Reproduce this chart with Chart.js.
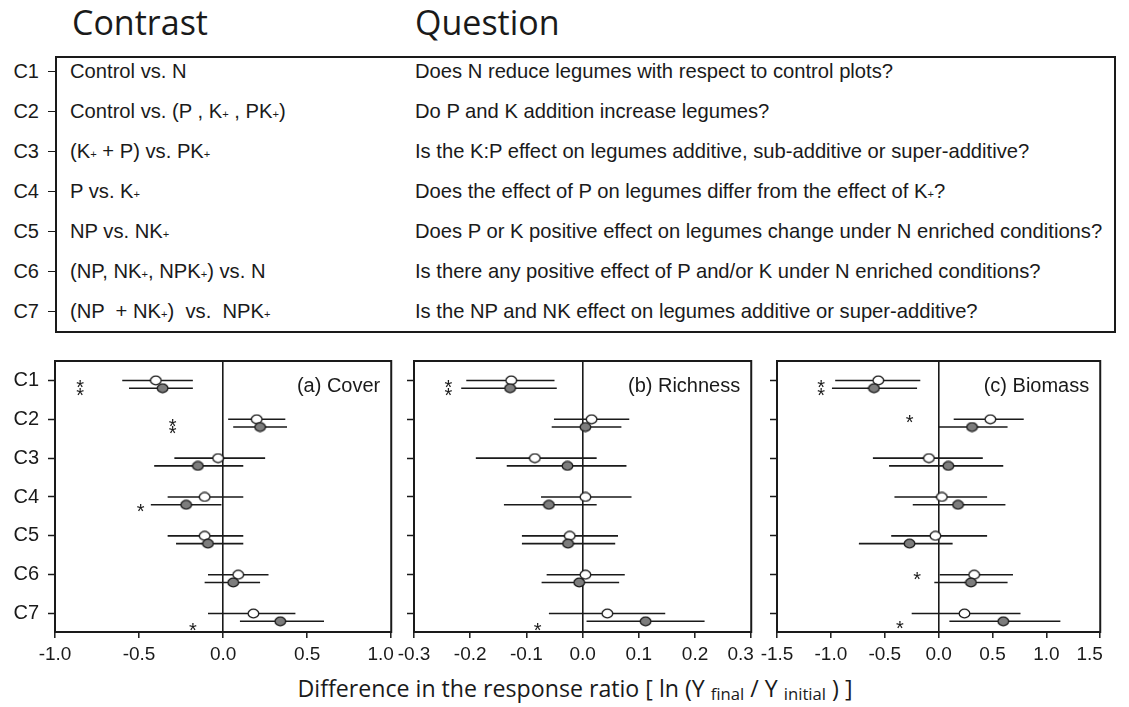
<!DOCTYPE html>
<html>
<head>
<meta charset="utf-8">
<title>Legume contrasts</title>
<script src="https://cdn.jsdelivr.net/npm/chart.js@4.4.1/dist/chart.umd.min.js"></script>
<style>
  html,body{margin:0;padding:0;background:#fff;}
  body{position:relative;width:1129px;height:707px;overflow:hidden;font-family:"Liberation Sans",Arial,sans-serif;color:#1a1a1a;}
  .head{position:absolute;top:5px;font-family:"Open Sans",sans-serif;font-size:34px;line-height:34px;white-space:nowrap;}
  #box{position:absolute;left:55px;top:56px;width:1061px;height:277px;border:2px solid #1a1a1a;box-sizing:border-box;}
  .txt{position:absolute;white-space:nowrap;font-size:20px;line-height:1;}
  .lab{position:absolute;left:0;width:39px;text-align:right;font-size:20px;line-height:20px;}
  .tick{position:absolute;left:48px;width:7px;height:0;border-top:1.5px solid #1a1a1a;}
  sub{font-size:0.55em;vertical-align:baseline;position:relative;top:0.05em;}
  canvas{position:absolute;top:340px;}
  #xtitle{position:absolute;top:675px;left:575px;transform:translateX(-50%);font-family:"Open Sans",sans-serif;font-size:22px;line-height:26px;white-space:nowrap;}
  #xtitle sub{font-size:0.72em;top:0.2em;}
</style>
</head>
<body>
<div class="head" style="left:72px">Contrast</div>
<div class="head" style="left:415px">Question</div>
<div id="box"></div>
<div id="table"></div>
<div id="xtitle">Difference in the response ratio [ ln (Y <sub>final</sub> / Y <sub>initial</sub> ) ]</div>

<canvas id="cover" width="420" height="367" style="left:0px"></canvas>
<canvas id="richness" width="400" height="367" style="left:380px"></canvas>
<canvas id="biomass" width="389" height="367" style="left:740px"></canvas>

<script>
  // ===== Data =====
  const contrasts = ['C1','C2','C3','C4','C5','C6','C7'];
  const contrastText = [
    'Control vs. N',
    'Control vs. (P , K<sub>+</sub> , PK<sub>+</sub>)',
    '(K<sub>+</sub> + P) vs. PK<sub>+</sub>',
    'P vs. K<sub>+</sub>',
    'NP vs. NK<sub>+</sub>',
    '(NP, NK<sub>+</sub>, NPK<sub>+</sub>) vs. N',
    '(NP &nbsp;+ NK<sub>+</sub>) &nbsp;vs. &nbsp;NPK<sub>+</sub>'
  ];
  const questionText = [
    'Does N reduce legumes with respect to control plots?',
    'Do P and K addition increase legumes?',
    'Is the K:P effect on legumes additive, sub-additive or super-additive?',
    'Does the effect of P on legumes differ from the effect of K<sub>+</sub>?',
    'Does P or K positive effect on legumes change under N enriched conditions?',
    'Is there any positive effect of P and/or K under N enriched conditions?',
    'Is the NP and NK effect on legumes additive or super-additive?'
  ];

  const coverTicks    = [-1, -0.5, 0, 0.5, 1];
  const richnessTicks = [-0.3, -0.2, -0.1, 0, 0.1, 0.2, 0.3];
  const biomassTicks  = [-1.5, -1, -0.5, 0, 0.5, 1, 1.5];

  // (a) Cover
  const coverOpenMean = [-0.40, 0.20, -0.03, -0.11, -0.11, 0.09, 0.18];
  const coverOpenLow  = [-0.60, 0.03, -0.29, -0.33, -0.33, -0.09, -0.09];
  const coverOpenHigh = [-0.18, 0.37, 0.25, 0.12, 0.12, 0.27, 0.43];
  const coverFillMean = [-0.36, 0.22, -0.15, -0.22, -0.09, 0.06, 0.34];
  const coverFillLow  = [-0.56, 0.06, -0.41, -0.43, -0.28, -0.11, 0.10];
  const coverFillHigh = [-0.18, 0.38, 0.12, -0.01, 0.12, 0.22, 0.60];
  const coverStarX = [-0.85, -0.85, -0.30, -0.30, -0.49, -0.18];
  const coverStarY = [1.05, 1.25, 2.05, 2.25, 4.25, 7.3];

  // (b) Richness
  const richOpenMean = [-0.127, 0.016, -0.085, 0.005, -0.023, 0.005, 0.044];
  const richOpenLow  = [-0.207, -0.051, -0.190, -0.074, -0.108, -0.064, -0.060];
  const richOpenHigh = [-0.050, 0.083, 0.025, 0.087, 0.063, 0.075, 0.147];
  const richFillMean = [-0.129, 0.005, -0.027, -0.060, -0.026, -0.006, 0.112];
  const richFillLow  = [-0.216, -0.055, -0.135, -0.140, -0.108, -0.073, 0.007];
  const richFillHigh = [-0.046, 0.069, 0.078, 0.025, 0.058, 0.065, 0.217];
  const richStarX = [-0.239, -0.239, -0.08];
  const richStarY = [1.05, 1.25, 7.3];

  // (c) Biomass
  const bioOpenMean = [-0.56, 0.48, -0.09, 0.03, -0.03, 0.33, 0.24];
  const bioOpenLow  = [-0.96, 0.14, -0.61, -0.41, -0.44, 0.01, -0.25];
  const bioOpenHigh = [-0.17, 0.79, 0.41, 0.45, 0.45, 0.69, 0.76];
  const bioFillMean = [-0.60, 0.31, 0.09, 0.18, -0.27, 0.30, 0.60];
  const bioFillLow  = [-0.99, 0.00, -0.46, -0.24, -0.74, -0.04, 0.10];
  const bioFillHigh = [-0.20, 0.64, 0.60, 0.62, 0.13, 0.64, 1.13];
  const bioStarX = [-1.09, -1.09, -0.27, -0.20, -0.36];
  const bioStarY = [1.05, 1.25, 1.95, 6.0, 7.25];

  const INK = '#1a1a1a';
  const GREY = '#7d7d7d';
  const FILL_OFFSET = 0.2;
  const STAR_SIZE = 20;

  // ===== Table (contrast / question) =====
  const table = document.getElementById('table');
  const questionEls = [], contrastEls = [];
  contrasts.forEach((c, i) => {
    const y = 71 + 40 * i;
    const lab = document.createElement('div');
    lab.className = 'lab'; lab.textContent = c; lab.style.top = (y - 10) + 'px';
    const tk = document.createElement('div');
    tk.className = 'tick'; tk.style.top = y + 'px';
    const ct = document.createElement('div');
    ct.className = 'txt'; ct.innerHTML = contrastText[i]; ct.style.left = '70px';
    const q = document.createElement('div');
    q.className = 'txt'; q.innerHTML = questionText[i]; q.style.left = '415px';
    [ct, q].forEach(el => { el.dataset.y = y; });
    table.append(lab, tk, ct, q);
    contrastEls.push(ct); questionEls.push(q);
  });
  // fit the table text so the longest question matches the box
  const widest = Math.max(...questionEls.map(el => el.offsetWidth));
  const fs = 20 * 688 / widest;
  [...contrastEls, ...questionEls].forEach(el => {
    el.style.fontSize = fs + 'px';
    el.style.top = (el.dataset.y - fs / 2) + 'px';
  });

  const xt = document.getElementById('xtitle');
  xt.style.fontSize = (22 * 555 / xt.offsetWidth) + 'px';

  // ===== Markers =====
  function ellipseDot(fill){
    const c = document.createElement('canvas');
    c.width = 13; c.height = 11;
    const g = c.getContext('2d');
    g.beginPath();
    g.ellipse(6.5, 5.5, 5.3, 4.3, 0, 0, Math.PI * 2);
    g.fillStyle = fill; g.fill();
    g.lineWidth = 1.3; g.strokeStyle = INK; g.stroke();
    return c;
  }
  const openDot = ellipseDot('#ffffff');
  const fillDot = ellipseDot(GREY);

  const points = (means, off) => means.map((m, i) => ({ x: m, y: i + 1 + off }));
  const bars = (lo, hi, off) => {
    const out = [];
    lo.forEach((l, i) => {
      out.push({ x: l, y: i + 1 + off }, { x: hi[i], y: i + 1 + off }, { x: NaN, y: NaN });
    });
    return out;
  };

  // ===== Plugins =====
  const framePlugin = {
    id: 'frame',
    afterDraw(chart, args, o){
      const { ctx, chartArea: c } = chart;
      ctx.save();
      ctx.strokeStyle = INK; ctx.lineWidth = 2;
      ctx.strokeRect(c.left, c.top, c.right - c.left, c.bottom - c.top);
      if (o.text) {
        ctx.font = '20px "Liberation Sans", Arial';
        ctx.fillStyle = INK; ctx.textAlign = 'right'; ctx.textBaseline = 'middle';
        ctx.fillText(o.text, c.right - 11, chart.scales.y.getPixelForValue(1.15));
      }
      ctx.restore();
    }
  };
  const starPlugin = {
    id: 'stars',
    afterDatasetsDraw(chart, args, o){
      const { ctx, scales: { x, y } } = chart;
      ctx.save();
      ctx.font = STAR_SIZE + 'px "Liberation Sans", Arial';
      ctx.fillStyle = INK; ctx.textAlign = 'center'; ctx.textBaseline = 'alphabetic';
      o.x.forEach((v, i) => {
        ctx.fillText('*', x.getPixelForValue(v), y.getPixelForValue(o.y[i]) + STAR_SIZE * 0.57);
      });
      ctx.restore();
    }
  };

  // ===== Panels =====
  function panel(cfg){
    const nb = '\u00a0\u00a0\u00a0\u00a0';
    return new Chart(document.getElementById(cfg.id), {
      type: 'scatter',
      data: { datasets: [
        { data: points(cfg.fillMean, FILL_OFFSET), pointStyle: fillDot, pointRadius: 5 },
        { data: points(cfg.openMean, 0), pointStyle: openDot, pointRadius: 5 },
        { data: bars(cfg.fillLow, cfg.fillHigh, FILL_OFFSET), showLine: true, borderColor: INK, borderWidth: 1.6, pointRadius: 0, pointHitRadius: 0 },
        { data: bars(cfg.openLow, cfg.openHigh, 0), showLine: true, borderColor: INK, borderWidth: 1.6, pointRadius: 0, pointHitRadius: 0 }
      ]},
      options: {
        responsive: false,
        animation: false,
        layout: { padding: { top: 15, right: cfg.padRight, left: 0, bottom: 0 } },
        plugins: {
          legend: { display: false },
          tooltip: { enabled: false },
          stars: { x: cfg.starX, y: cfg.starY },
          frame: { text: cfg.title }
        },
        scales: {
          x: {
            type: 'linear',
            min: cfg.ticks[0], max: cfg.ticks[cfg.ticks.length - 1],
            afterBuildTicks: s => { s.ticks = cfg.ticks.map(v => ({ value: v })); },
            afterFit: s => { s.height = 75; },
            ticks: {
              autoSkip: false, maxRotation: 0, minRotation: 0, padding: 5,
              color: INK, font: { family: '"Liberation Sans", Arial', size: 19 },
              callback: (v, i, t) => v.toFixed(1) + (i === t.length - 1 ? nb : '')
            },
            grid: {
              drawOnChartArea: true,
              color: c => (c.tick && c.tick.value === 0) ? INK : 'rgba(0,0,0,0)',
              lineWidth: 1.6,
              drawTicks: true, tickLength: 6, tickColor: INK, tickWidth: 1.5
            },
            border: { display: false }
          },
          y: {
            type: 'linear', reverse: true, min: 0.5, max: 7.475,
            afterBuildTicks: s => { s.ticks = contrasts.map((c, i) => ({ value: i + 1 })); },
            afterFit: s => { s.width = cfg.yWidth; },
            ticks: {
              padding: 9, color: INK, font: { family: '"Liberation Sans", Arial', size: 20 },
              callback: v => cfg.showLabels ? contrasts[v - 1] : ''
            },
            grid: { drawOnChartArea: false, drawTicks: true, tickLength: 7, tickColor: INK, tickWidth: 1.5 },
            border: { display: false }
          }
        }
      },
      plugins: [framePlugin, starPlugin]
    });
  }

  panel({ id: 'cover', title: '(a) Cover', ticks: coverTicks, yWidth: 55, padRight: 27, showLabels: true,
    openMean: coverOpenMean, openLow: coverOpenLow, openHigh: coverOpenHigh,
    fillMean: coverFillMean, fillLow: coverFillLow, fillHigh: coverFillHigh,
    starX: coverStarX, starY: coverStarY });

  panel({ id: 'richness', title: '(b) Richness', ticks: richnessTicks, yWidth: 34, padRight: 27, showLabels: false,
    openMean: richOpenMean, openLow: richOpenLow, openHigh: richOpenHigh,
    fillMean: richFillMean, fillLow: richFillLow, fillHigh: richFillHigh,
    starX: richStarX, starY: richStarY });

  panel({ id: 'biomass', title: '(c) Biomass', ticks: biomassTicks, yWidth: 37, padRight: 12, showLabels: false,
    openMean: bioOpenMean, openLow: bioOpenLow, openHigh: bioOpenHigh,
    fillMean: bioFillMean, fillLow: bioFillLow, fillHigh: bioFillHigh,
    starX: bioStarX, starY: bioStarY });
</script>
</body>
</html>
